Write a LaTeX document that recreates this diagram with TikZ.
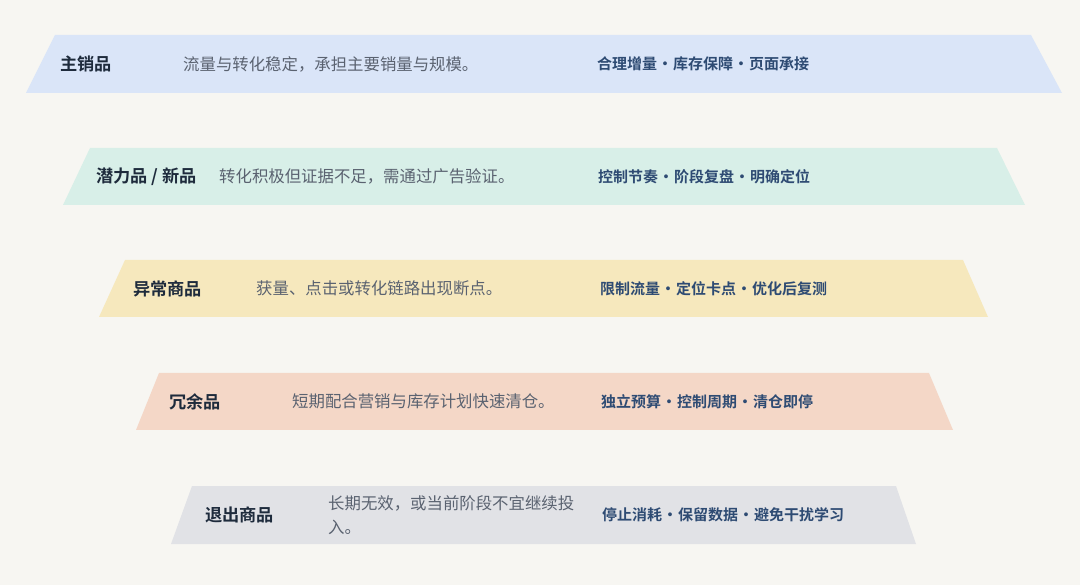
\documentclass[tikz,border=0pt]{standalone}
\usepackage{fontspec}
\setmainfont{Noto Sans CJK SC}[BoldFont={Noto Sans CJK SC Bold}]
\usepackage{xcolor}
\usepackage{tikz}
\usetikzlibrary{positioning}
\definecolor{page bg}{HTML}{F7F6F2}
\definecolor{main fill}{HTML}{DAE5F8}
\definecolor{new fill}{HTML}{D8EFE8}
\definecolor{odd fill}{HTML}{F6E8BD}
\definecolor{spare fill}{HTML}{F4D7C7}
\definecolor{exit fill}{HTML}{E1E2E6}
\definecolor{title ink}{HTML}{1E2B3C}
\definecolor{text ink}{HTML}{5A6270}
\definecolor{tag ink}{HTML}{2E4B73}
\newcommand{\tightspaces}{\spaceskip=0.5pt\relax}
\tikzset{
  band title/.style={
    anchor=west,
    inner sep=0pt,
    text=title ink,
    font=\fontsize{17.2}{20}\selectfont\bfseries,
  },
  band text/.style={
    anchor=west,
    inner sep=0pt,
    align=left,
    text=text ink,
    font=\fontsize{16.4}{24}\selectfont,
  },
  band tags/.style={
    anchor=west,
    inner sep=0pt,
    text=tag ink,
    font=\fontsize{15}{18}\selectfont\bfseries\tightspaces,
  }
}

\begin{document}
\begin{tikzpicture}[x=1pt, y=-1pt]
    \fill[page bg] (0,0) rectangle (1080,585);
    \useasboundingbox (0,0) rectangle (1080,585);

    % bands, widest on top
    \fill[main fill]  (26,93)  -- (55,35)   -- (1031,35)  -- (1062,93)  -- cycle;
    \fill[new fill]   (63,205) -- (90,148)  -- (997,148)  -- (1025,205) -- cycle;
    \fill[odd fill]   (99,317) -- (125,260) -- (963,260)  -- (988,317)  -- cycle;
    \fill[spare fill] (136,430) -- (159,373) -- (929,373) -- (953,430)  -- cycle;
    \fill[exit fill]  (171,544) -- (192,486) -- (896,486) -- (916,544)  -- cycle;

    \node [band title] (main) at (60,64) {主销品};
    \node [band text] (main desc) at (183,64) {流量与转化稳定，承担主要销量与规模。};
    \node [band tags] (main tags) at (597,64) {合理增量 • 库存保障 • 页面承接};

    \node [band title] (new) at (96,176.5) {潜力品 / 新品};
    \node [band text] (new desc) at (219,176.5) {转化积极但证据不足，需通过广告验证。};
    \node [band tags] (new tags) at (598,176.5) {控制节奏 • 阶段复盘 • 明确定位};

    \node [band title] (odd) at (133,288.5) {异常商品};
    \node [band text] (odd desc) at (256,288.5) {获量、点击或转化链路出现断点。};
    \node [band tags] (odd tags) at (600,288.5) {限制流量 • 定位卡点 • 优化后复测};

    \node [band title] (spare) at (169,401.5) {冗余品};
    \node [band text] (spare desc) at (292,401.5) {短期配合营销与库存计划快速清仓。};
    \node [band tags] (spare tags) at (601,401.5) {独立预算 • 控制周期 • 清仓即停};

    \node [band title] (exit) at (205,515) {退出商品};
    \node [band text] (exit desc) at (328,515) {长期无效，或当前阶段不宜继续投\\入。};
    \node [band tags] (exit tags) at (602,515) {停止消耗 • 保留数据 • 避免干扰学习};
\end{tikzpicture}
\end{document}
